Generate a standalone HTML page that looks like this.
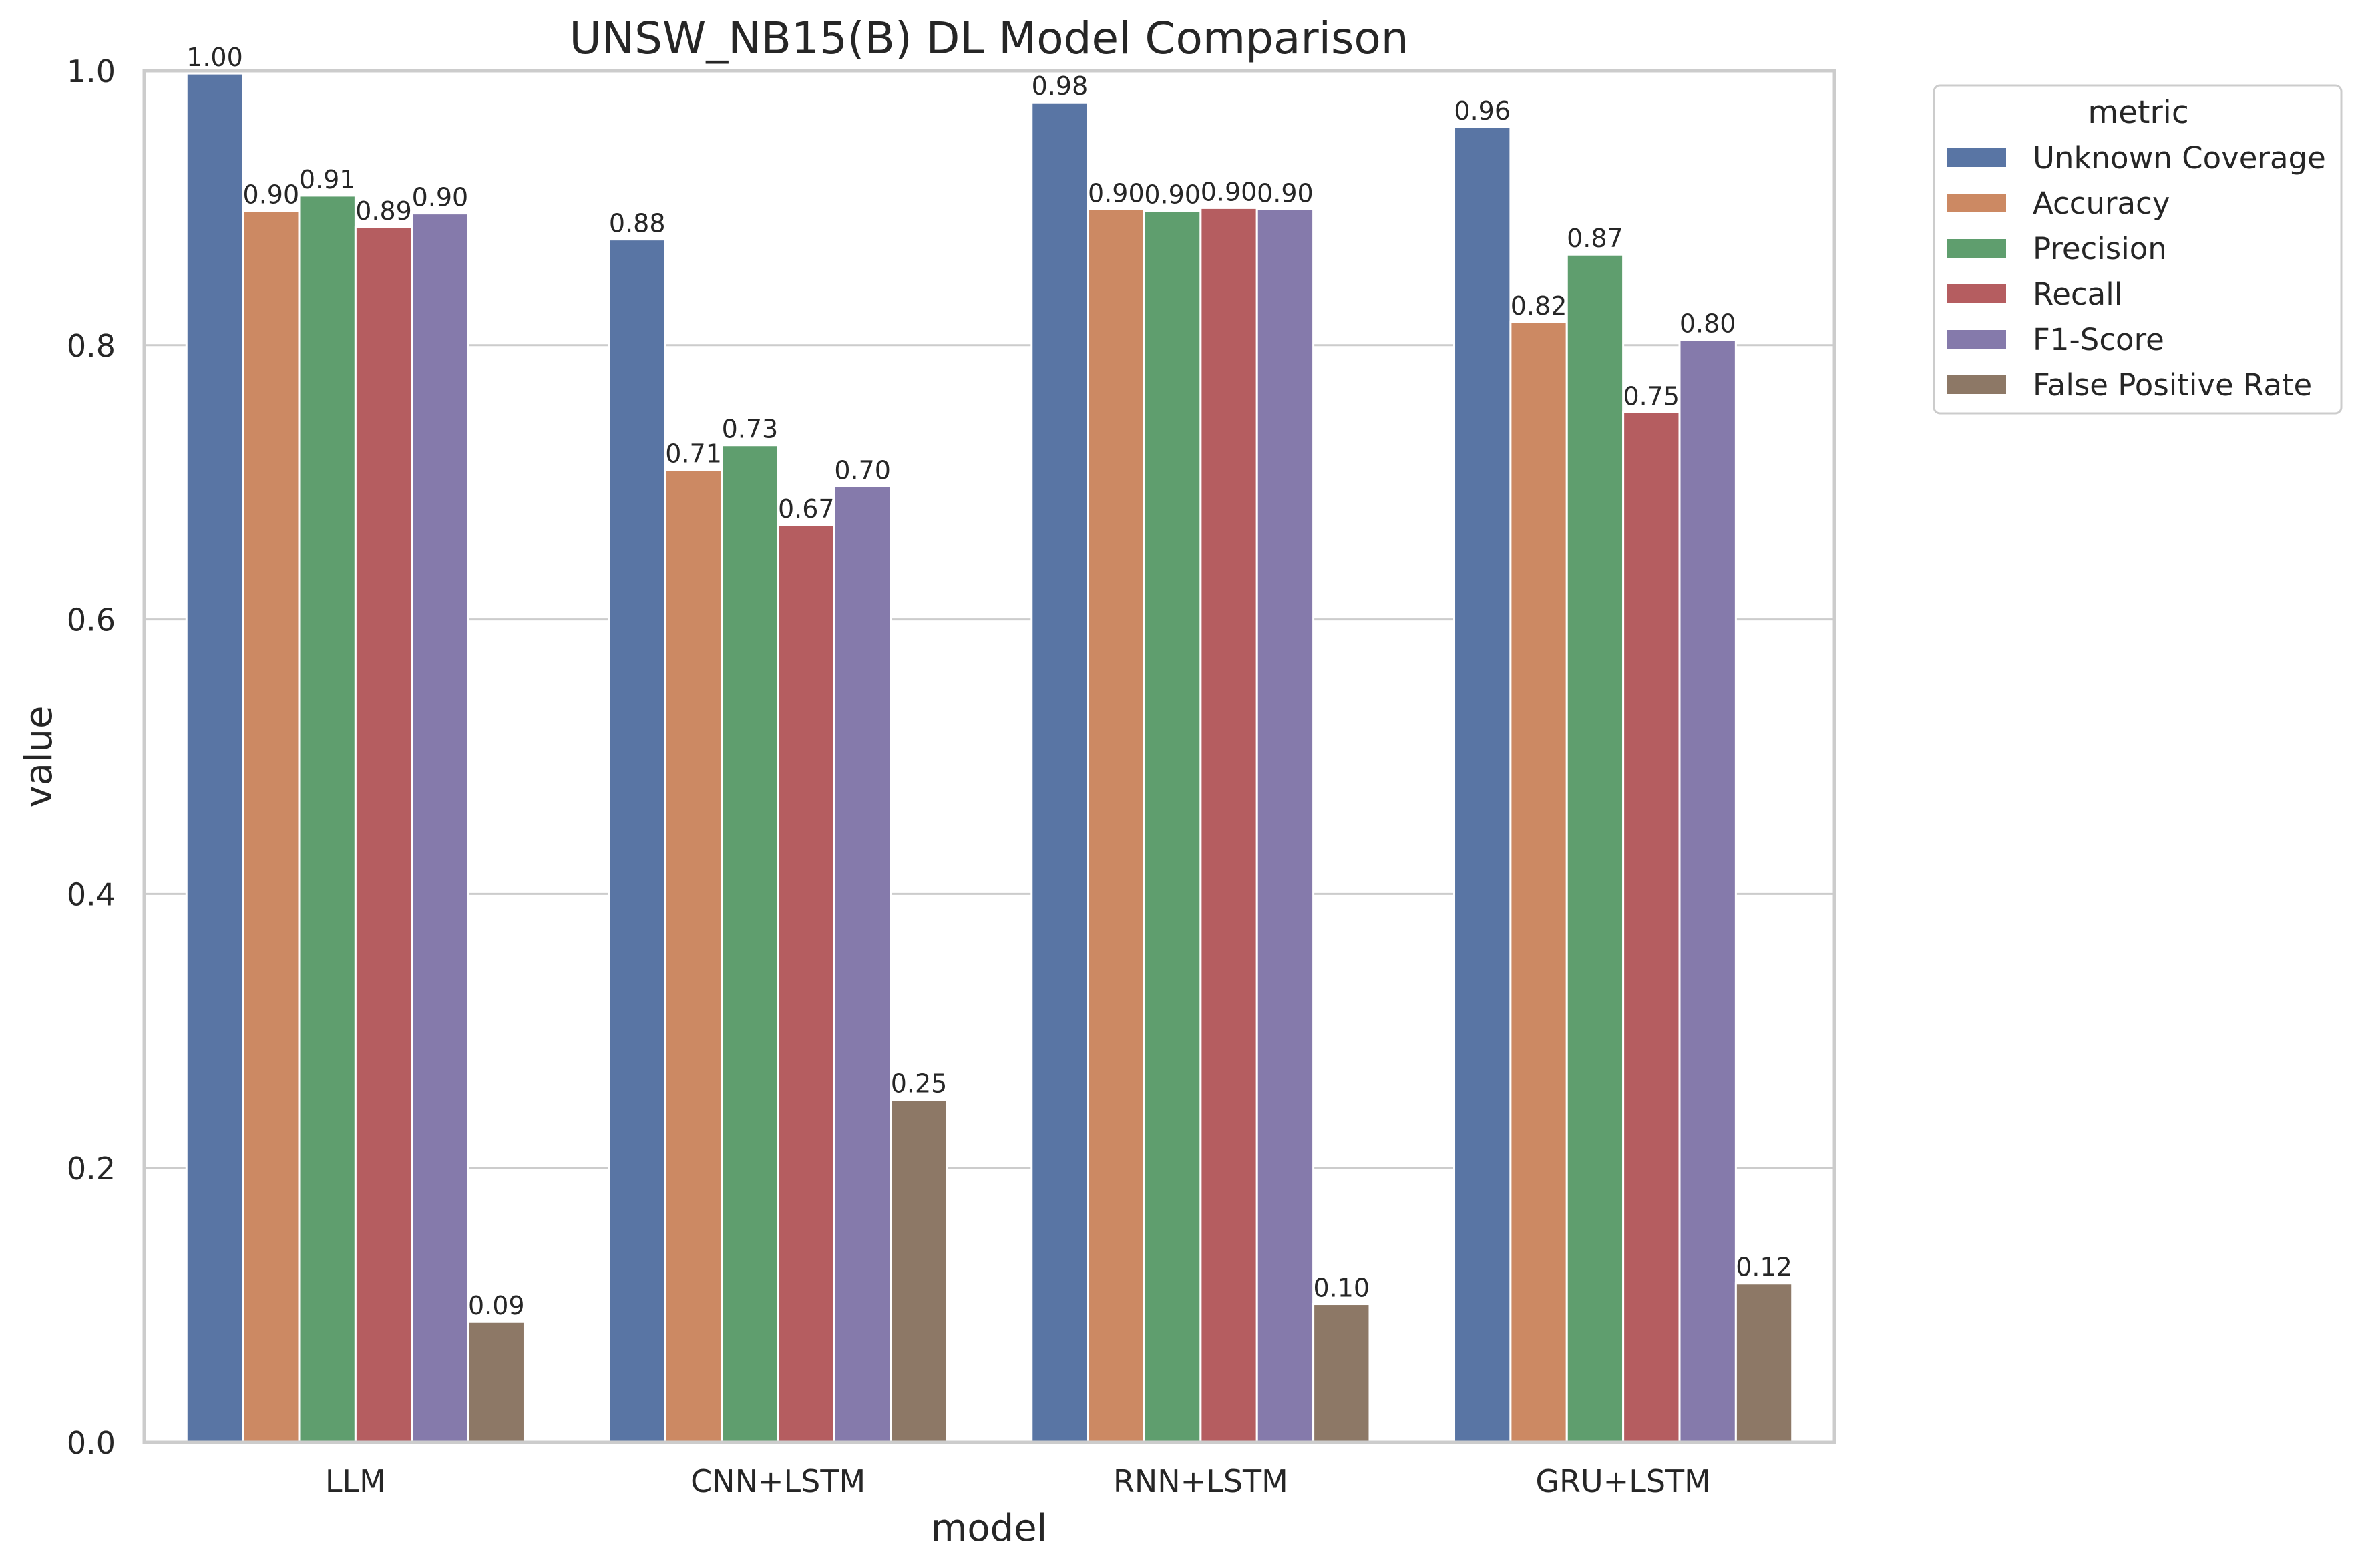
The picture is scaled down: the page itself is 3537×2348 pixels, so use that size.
<!DOCTYPE html>
<html><head><meta charset="utf-8"><style>
html,body{margin:0;padding:0;background:#fff}
svg{display:block}
text{font-family:"DejaVu Sans","Liberation Sans",sans-serif;fill:#262626}
</style></head><body>
<svg id="chart" width="3537" height="2348" viewBox="0 0 3537 2348" xmlns="http://www.w3.org/2000/svg">
<rect x="0" y="0" width="3537" height="2348" fill="#fff"/>
<g id="grid"></g>
<g id="bars"></g>
<g id="labels"></g>
<rect x="216" y="106" width="2531" height="2054" fill="none" stroke="#cccccc" stroke-width="5"/>
<g id="yticks"></g>
<g id="xticks"></g>
<text x="1481" y="80" font-size="66" text-anchor="middle">UNSW_NB15(B) DL Model Comparison</text>
<text x="1481" y="2307" font-size="56" text-anchor="middle">model</text>
<text x="0" y="0" font-size="56" text-anchor="middle" transform="translate(77,1133) rotate(-90)">value</text>
<g id="legend">
<rect x="2896" y="128" width="610" height="491" rx="9" fill="#fff" stroke="#cccccc" stroke-width="3"/>
<text x="3202" y="184" font-size="47" text-anchor="middle">metric</text>
</g>
</svg>
<script>
const categories = ["LLM","CNN+LSTM","RNN+LSTM","GRU+LSTM"];
const metrics = ["Unknown Coverage","Accuracy","Precision","Recall","F1-Score","False Positive Rate"];
const unknownCoverage = [0.998, 0.877, 0.977, 0.959];
const accuracy = [0.898, 0.709, 0.899, 0.817];
const precision = [0.909, 0.727, 0.898, 0.866];
const recall = [0.886, 0.669, 0.900, 0.751];
const f1Score = [0.896, 0.697, 0.899, 0.804];
const falsePositiveRate = [0.088, 0.250, 0.101, 0.116];
const yTicks = [0.0, 0.2, 0.4, 0.6, 0.8, 1.0];
const series = [unknownCoverage, accuracy, precision, recall, f1Score, falsePositiveRate];
const colors = ["#5975a4","#cc8963","#5f9e6e","#b55d60","#857aab","#8d7866"];

const NS = "http://www.w3.org/2000/svg";
const L = 216, R = 2747, T = 106, B = 2160;
const yMax = 1.0;
function yScale(v){ return B - (v / yMax) * (B - T); }
const band = (R - L) / categories.length;
const barW = band * 0.8 / metrics.length;
function xBar(ci, mi){ return L + (ci + 0.5) * band - band * 0.4 + mi * barW; }
function mk(tag, attrs, parent){
  const e = document.createElementNS(NS, tag);
  for (const k in attrs) e.setAttribute(k, attrs[k]);
  parent.appendChild(e); return e;
}
const gGrid = document.getElementById('grid');
const gBars = document.getElementById('bars');
const gLab = document.getElementById('labels');
const gY = document.getElementById('yticks');
const gX = document.getElementById('xticks');
const gLeg = document.getElementById('legend');

yTicks.forEach(t => {
  const y = yScale(t);
  const ln = mk('line', {x1:L, x2:R, y1:y, y2:y, stroke:'#cccccc', 'stroke-width':3}, gGrid);
  
  
  const tx = mk('text', {x:173, y:y+17, 'font-size':46, 'text-anchor':'end'}, gY);
  tx.textContent = t.toFixed(1);
  
  
});

categories.forEach((c, ci) => {
  const tx = mk('text', {x:L + (ci + 0.5) * band, y:2234, 'font-size':46, 'text-anchor':'middle'}, gX);
  tx.textContent = c;
  
  
});

series.forEach((vals, mi) => {
  vals.forEach((v, ci) => {
    const x = xBar(ci, mi), y = yScale(v);
    const r = mk('rect', {x:x, y:y, width:barW, height:B - y, fill:colors[mi], stroke:'#ffffff', 'stroke-width':3}, gBars);
    
    
    const t = mk('text', {x:x + barW / 2, y:y - 11, 'font-size':38, 'text-anchor':'middle'}, gLab);
    t.textContent = v.toFixed(2);
    
    
  });
});

metrics.forEach((m, mi) => {
  const y = 222 + mi * 68;
  const p = mk('rect', {x:2916, y:y, width:88, height:28, fill:colors[mi]}, gLeg);
  
  
  const t = mk('text', {x:3044, y:y + 30, 'font-size':45}, gLeg);
  t.textContent = m;
  
  
});
</script>
</body></html>
